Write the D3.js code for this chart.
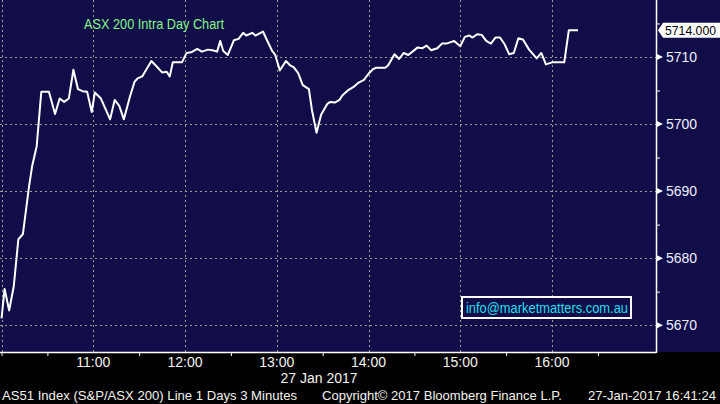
<!DOCTYPE html>
<html><head><meta charset="utf-8">
<script src="https://cdn.jsdelivr.net/npm/d3@7"></script>
<style>html,body{margin:0;padding:0;background:#000;}svg{display:block;}</style>
</head><body>
<svg id="c" width="720" height="404"></svg>
<script>
const times = ["10:00","10:02","10:05","10:08","10:11","10:14","10:18","10:20","10:23","10:26","10:31","10:35","10:38","10:41","10:44","10:47","10:50","10:53","10:56","10:59","11:01","11:05","11:11","11:14","11:17","11:20","11:24","11:27","11:29","11:32","11:38","11:41","11:45","11:48","11:50","11:52","11:58","12:01","12:04","12:08","12:11","12:15","12:18","12:21","12:23","12:25","12:28","12:32","12:35","12:38","12:40","12:44","12:46","12:51","12:53","12:57","12:59","13:02","13:06","13:09","13:11","13:14","13:17","13:21","13:23","13:26","13:29","13:33","13:35","13:38","13:41","13:43","13:47","13:50","13:53","13:57","14:00","14:03","14:05","14:11","14:13","14:17","14:20","14:23","14:26","14:32","14:35","14:38","14:41","14:45","14:48","14:51","14:56","15:00","15:03","15:06","15:08","15:11","15:14","15:17","15:20","15:23","15:26","15:29","15:32","15:35","15:38","15:41","15:45","15:50","15:53","15:56","16:00","16:08","16:11","16:17"];
const values = [5671.0,5675.4,5672.2,5675.8,5682.8,5683.6,5690.7,5693.7,5696.7,5704.8,5704.8,5701.5,5703.8,5703.3,5703.8,5708.1,5705.2,5704.9,5704.8,5701.8,5704.7,5703.8,5700.7,5703.6,5702.7,5700.7,5704.1,5706.3,5706.8,5707.1,5709.4,5708.7,5707.7,5707.8,5707.1,5709.2,5709.2,5710.6,5710.7,5711.2,5710.8,5711.1,5711.0,5710.8,5712.4,5710.9,5710.3,5712.5,5712.7,5713.6,5713.2,5713.6,5713.2,5713.8,5712.8,5710.9,5710.3,5708.0,5709.4,5708.7,5708.5,5707.6,5705.8,5705.2,5702.1,5698.7,5701.4,5703.0,5703.3,5703.2,5703.6,5704.3,5705.1,5705.5,5706.1,5706.6,5707.5,5708.2,5708.4,5708.4,5708.8,5710.4,5709.7,5710.6,5710.3,5711.4,5711.3,5711.7,5711.0,5711.3,5712.0,5712.0,5712.4,5711.6,5713.0,5713.2,5712.9,5713.4,5713.3,5712.4,5712.0,5712.9,5712.9,5711.9,5710.4,5710.6,5712.8,5712.6,5711.1,5709.8,5710.6,5708.9,5709.2,5709.2,5714.0,5714.0];
const yMajor = [5670,5680,5690,5700,5710];
const yMinor = [5675,5685,5695,5705,5715];
const xHours = ["10:00","11:00","12:00","13:00","14:00","15:00","16:00"];
const xHalf = ["10:30","11:30","12:30","13:30","14:30","15:30","16:30"];
const lastValue = 5714.0;
const title = "ASX 200 Intra Day Chart";
const dateLabel = "27 Jan 2017";
const footerLeft = "AS51 Index (S&P/ASX 200) Line 1 Days 3 Minutes";
const footerMid = "Copyright\u00A9 2017 Bloomberg Finance L.P.";
const footerRight = "27-Jan-2017 16:41:24";
const email = "info@marketmatters.com.au";

const parse = d3.timeParse("%Y-%m-%d %H:%M");
const T = s => parse("2017-01-27 " + s);
const data = times.map((t,i)=>({t:T(t), v:values[i]}));

const svg = d3.select("#c");
const W = 720, H = 404, pw = 656, ph = 352;
const navy = "#100d48";
const font = "'Liberation Sans', Arial, sans-serif";

svg.append("rect").attr("width",W).attr("height",H).attr("fill","#000");
svg.append("rect").attr("x",0).attr("y",0).attr("width",W).attr("height",ph).attr("fill",navy);

const x = d3.scaleTime().domain([T("09:59"), T("17:08")]).range([0,pw]);
const y = d3.scaleLinear().domain([5666,5718.5]).range([ph,0]);

// gridlines
const grid = svg.append("g").attr("stroke","#a09c8c").attr("stroke-width",1).attr("stroke-dasharray","2,3");
grid.selectAll("line.h").data(yMajor).join("line").attr("class","h")
  .attr("x1",0).attr("x2",pw).attr("y1",d=>Math.round(y(d))+0.5).attr("y2",d=>Math.round(y(d))+0.5);
grid.selectAll("line.v").data(xHours).join("line").attr("class","v")
  .attr("x1",d=>Math.round(x(T(d)))+0.5).attr("x2",d=>Math.round(x(T(d)))+0.5).attr("y1",0).attr("y2",ph);

// series line
svg.append("path").datum(data)
  .attr("d", d3.line().x(d=>x(d.t)).y(d=>y(d.v)))
  .attr("fill","none").attr("stroke","#ffffff").attr("stroke-width",2).attr("stroke-linejoin","round");

// axes frame
svg.append("line").attr("x1",pw+0.5).attr("x2",pw+0.5).attr("y1",0).attr("y2",ph+1).attr("stroke","#fff").attr("stroke-width",1.5);
svg.append("line").attr("x1",0).attr("x2",pw).attr("y1",ph+0.5).attr("y2",ph+0.5).attr("stroke","#fff").attr("stroke-width",1.5);

// right axis
const yAxis = d3.axisRight(y).tickValues(yMinor).tickSize(4).tickFormat("");
const ya = svg.append("g").attr("transform",`translate(${pw},0)`).call(yAxis);
ya.select(".domain").remove();
ya.selectAll(".tick line").attr("stroke","#fff");
const ym = svg.append("g").attr("transform",`translate(${pw},0)`);
ym.selectAll("path").data(yMajor).join("path")
  .attr("d",d=>{const yy=y(d);return `M1,${yy-3}L7,${yy}L1,${yy+3}Z`;}).attr("fill","#fff");
ym.selectAll("text").data(yMajor).join("text")
  .attr("x",10).attr("y",d=>y(d)).attr("dy","0.35em")
  .attr("fill","#eef0ff").attr("font-family",font).attr("font-size",14).text(d=>d);

// last value tag
const ly = y(lastValue);
svg.append("path").attr("d",`M658,${ly}L663,${ly-7.5}L720,${ly-7.5}L720,${ly+7.5}L663,${ly+7.5}Z`).attr("fill","#fff");
svg.append("text").attr("x",665).attr("y",ly).attr("dy","0.36em").attr("font-family",font).attr("font-size",13.5)
  .attr("fill","#000").attr("textLength",51).attr("lengthAdjust","spacingAndGlyphs").text(lastValue.toFixed(3));

// bottom axis
const xAxis = d3.axisBottom(x).tickValues(xHalf.map(T).concat([T("10:00")])).tickSize(4).tickFormat("");
const xa = svg.append("g").attr("transform",`translate(0,${ph})`).call(xAxis);
xa.select(".domain").remove();
xa.selectAll(".tick line").attr("stroke","#fff");
svg.append("g").selectAll("text").data(xHours.slice(1)).join("text")
  .attr("x",d=>x(T(d))).attr("y",367).attr("text-anchor","middle")
  .attr("fill","#f4f4ec").attr("font-family",font).attr("font-size",14).text(d=>d);

svg.append("text").attr("x",319).attr("y",383).attr("text-anchor","middle")
  .attr("fill","#f4f4ec").attr("font-family",font).attr("font-size",14).text(dateLabel);

// footer
const foot = [[footerLeft,2,295],[footerMid,322,240],[footerRight,588,128]];
svg.append("g").selectAll("text").data(foot).join("text")
  .attr("x",d=>d[1]).attr("y",400).attr("fill","#f4f4ec").attr("font-family",font).attr("font-size",13.5)
  .attr("textLength",d=>d[2]).attr("lengthAdjust","spacingAndGlyphs").text(d=>d[0]);

// title
svg.append("text").attr("x",84).attr("y",29).attr("fill","#86f586").attr("font-family",font).attr("font-size",14)
  .attr("textLength",140).attr("lengthAdjust","spacingAndGlyphs").text(title);

// email box
svg.append("rect").attr("x",462).attr("y",297).attr("width",169).attr("height",21)
  .attr("fill",navy).attr("stroke","#fff").attr("stroke-width",2);
svg.append("text").attr("x",466).attr("y",312.5).attr("fill","#22dfee").attr("font-family",font).attr("font-size",14)
  .attr("textLength",162).attr("lengthAdjust","spacingAndGlyphs").text(email);
</script>
</body></html>
